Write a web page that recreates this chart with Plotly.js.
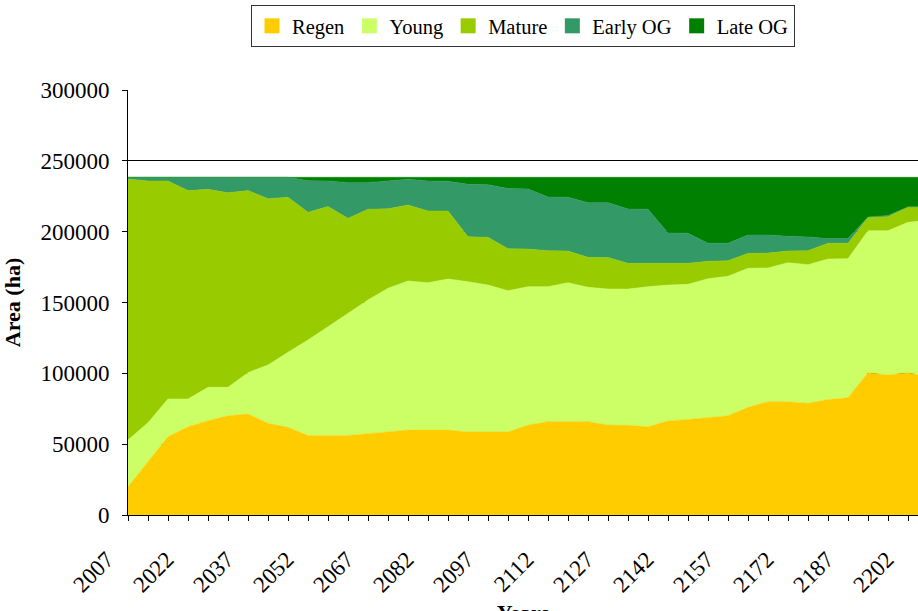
<!DOCTYPE html>
<html>
<head>
<meta charset="utf-8">
<script src="https://cdn.plot.ly/plotly-3.0.1.min.js"></script>
<style>html,body{margin:0;padding:0;background:#fff;overflow:hidden;}#chart{width:918px;height:640px;}</style>
</head>
<body>
<div id="chart"></div>
<script>
var years = [2007,2012,2017,2022,2027,2032,2037,2042,2047,2052,2057,2062,2067,2072,2077,2082,2087,2092,2097,2102,2107,2112,2117,2122,2127,2132,2137,2142,2147,2152,2157,2162,2167,2172,2177,2182,2187,2192,2197,2202,2207];

var regen   = [20000,37600,55300,62300,66600,70100,71300,64700,61900,56200,56200,56200,57400,58600,60000,60000,60000,58600,58600,58600,63500,65900,65900,65900,63500,63300,62300,66400,67500,68900,70100,76000,80000,80000,78800,81600,82800,100500,98800,100500,97600];
var young   = [32900,27600,26600,19600,23500,20000,29200,41200,52900,67300,76700,86200,94400,101400,105200,104000,106600,106100,103700,99700,97700,95300,98100,94800,96000,96200,98900,95900,95300,97900,98400,98100,94400,98100,97900,99100,98100,100200,101900,106100,110400];
var mature  = [184300,170600,153900,147100,139800,137400,128500,117400,109500,90200,84800,67000,64000,56200,53600,50600,48000,31800,33700,29700,26500,25400,22400,21200,22200,18200,16500,15400,14900,12300,11000,10600,10500,8300,9900,11100,10900,9400,9900,10800,9400];
var earlyOG = [1200,2600,2600,9400,8500,10900,9400,15100,14100,22300,18100,25200,18800,19600,18200,21200,21000,36900,37200,42400,42500,37900,37900,38600,38800,38300,38100,21400,21200,12700,12300,13000,12800,10300,9700,3300,3300,300,900,200,200];
var lateOG  = [0,0,0,0,0,0,0,0,0,2400,2600,3800,3800,2600,1400,2600,2800,5000,5200,8000,8200,13900,14100,17900,17900,22400,22600,39300,39500,46600,46600,40700,40700,41700,42100,43300,43300,28000,26900,20800,20800];

var seriesNames  = ['Regen','Young','Mature','Early OG','Late OG'];
var seriesColors = ['#FFCC00','#CCFF66','#99CC00','#339966','#008000'];
var seriesData   = [regen, young, mature, earlyOG, lateOG];

var xTickVals = [2007,2022,2037,2052,2067,2082,2097,2112,2127,2142,2157,2172,2187,2202];
var xTickText = ['2007','2022','2037','2052','2067','2082','2097','2112','2127','2142','2157','2172','2187','2202'];
var yTickVals = [0,50000,100000,150000,200000,250000,300000];
var yTickText = ['0','50000','100000','150000','200000','250000','300000'];

var traces = [];
for (var i = 0; i < seriesNames.length; i++) {
  traces.push({
    type: 'scatter', mode: 'lines', x: years, y: seriesData[i],
    stackgroup: 'one', fillcolor: seriesColors[i],
    line: {width: 0.5, color: seriesColors[i]},
    showlegend: false, hoverinfo: 'skip'
  });
}
for (var j = 0; j < seriesNames.length; j++) {
  traces.push({
    type: 'scatter', mode: 'markers', x: [null], y: [null], name: seriesNames[j],
    marker: {symbol: 'square', size: 15, color: seriesColors[j]},
    showlegend: true, hoverinfo: 'skip'
  });
}

var serif = '"Liberation Serif", "Times New Roman", serif';
var layout = {
  width: 918, height: 640,
  margin: {l: 128, r: 0, t: 90, b: 125},
  paper_bgcolor: '#fff', plot_bgcolor: '#fff',
  font: {family: serif, color: '#000', size: 23},
  showlegend: true,
  legend: {
    orientation: 'h', x: 0.5, xanchor: 'center', y: 1.2, yanchor: 'top',
    bordercolor: '#333', borderwidth: 1, bgcolor: '#fff',
    font: {family: serif, size: 20.5, color: '#000'}, itemwidth: 30, traceorder: 'normal'
  },
  xaxis: {
    range: [2007, 2204.5], tickmode: 'array', tickvals: xTickVals, ticktext: xTickText,
    tickangle: -45, ticks: 'outside', ticklen: 5, tickcolor: '#000', tickwidth: 1,
    showline: true, linecolor: '#000', linewidth: 1, showgrid: false, zeroline: false,
    tickfont: {family: serif, size: 23, color: '#000'}, ticklabelstandoff: 16, ticklabelshift: -21,
    ticklabeloverflow: 'allow',
    minor: {tickmode: 'linear', tick0: 2007, dtick: 5, ticks: 'outside', ticklen: 5, tickcolor: '#000', showgrid: false},
    title: {text: '<b>Years</b>', font: {family: serif, size: 22, color: '#000'}, standoff: 8},
    fixedrange: true
  },
  yaxis: {
    range: [0, 300000], tickmode: 'array', tickvals: yTickVals, ticktext: yTickText,
    ticks: 'outside', ticklen: 5, tickcolor: '#000', tickwidth: 1,
    showline: true, linecolor: '#000', linewidth: 1,
    showgrid: true, gridcolor: '#000', gridwidth: 1, zeroline: false,
    tickfont: {family: serif, size: 23, color: '#000'}, ticklabelstandoff: 8,
    title: {text: '<b>Area (ha)</b>', font: {family: serif, size: 22, color: '#000'}, standoff: 16},
    fixedrange: true
  }
};

Plotly.newPlot('chart', traces, layout, {displayModeBar: false, staticPlot: true});
</script>
</body>
</html>
